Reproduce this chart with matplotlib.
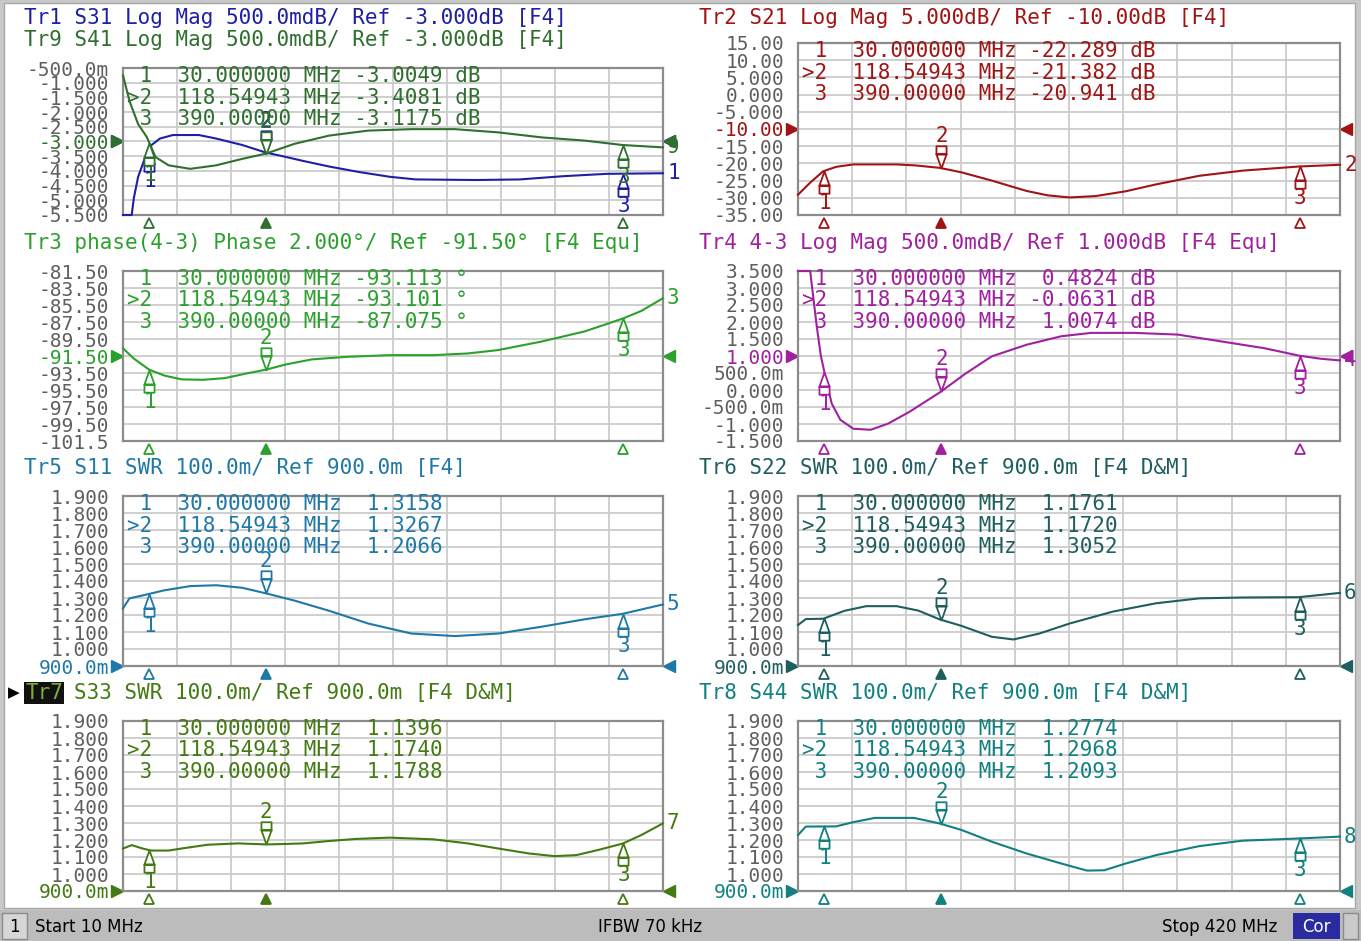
import numpy as np
import matplotlib
matplotlib.use("Agg")
import matplotlib.pyplot as plt
from matplotlib.patches import Rectangle
from matplotlib.path import Path
from matplotlib.transforms import blended_transform_factory, ScaledTranslation

plt.rcParams['font.family'] = ['DejaVu Sans Mono', 'DejaVu Sans']

W, H = 1361, 941

# ---- colours of the traces ----
C_TR1 = '#1f1fa5'
C_TR9 = '#2f6f2f'
C_TR2 = '#a01414'
C_TR3 = '#2ca02c'
C_TR4 = '#a020a0'
C_TR5 = '#1f78a8'
C_TR6 = '#1e5e5e'
C_TR7 = '#437a12'
C_TR8 = '#128080'

# ---- markers ----
marker_freq = [30.0, 118.54943, 390.0]
marker_freq_txt = ["30.000000", "118.54943", "390.00000"]

# ---- traces (MHz, value) ----
f_tr1 = [10, 16.6, 18.2, 21.5, 26.5, 31.4, 38, 47.9, 67.6, 80.8, 100.6, 118.7, 130.2,
         146.7, 166.4, 189.5, 212.5, 232.3, 278.4, 311.3, 344.3, 377.2, 420]
v_tr1 = [-5.5, -5.5, -4.93, -4.2, -3.58, -3.13, -2.9, -2.78, -2.78, -2.9, -3.12, -3.38, -3.49,
         -3.66, -3.85, -4.04, -4.2, -4.29, -4.31, -4.29, -4.18, -4.1, -4.08]

f_tr9 = [10, 14.9, 21.5, 28.1, 34.7, 44.6, 61, 80.8, 100.6, 118.7, 140.1, 166.4, 196.1,
         229, 261.9, 294.9, 327.8, 360.7, 389.4, 420]
v_tr9 = [-0.75, -1.62, -2.41, -2.85, -3.53, -3.81, -3.93, -3.81, -3.59, -3.41, -3.08, -2.8,
         -2.63, -2.58, -2.58, -2.69, -2.86, -2.97, -3.12, -3.2]

f_tr2 = [10, 19.2, 29, 38.8, 51.9, 84.6, 99.3, 117.3, 133.7, 156.6, 182.8, 199.1, 215.5,
         235.1, 258, 280.9, 313.6, 346.4, 389, 420]
v_tr2 = [-29.1, -25.6, -22.3, -21.0, -20.3, -20.3, -20.6, -21.3, -22.6, -25.0, -28.0, -29.3,
         -29.9, -29.5, -28.1, -26.1, -23.6, -22.1, -20.9, -20.4]

f_tr3 = [10, 18.2, 29.8, 41.3, 54.5, 70.9, 87.4, 103.9, 118.7, 133.5, 153.3, 179.6, 212.5,
         245.5, 271.8, 294.9, 327.8, 360.7, 389.4, 403.5, 420]
v_tr3 = [-90.6, -91.8, -93.1, -93.8, -94.25, -94.3, -94.1, -93.55, -93.1, -92.5, -91.9, -91.6,
         -91.4, -91.4, -91.2, -90.8, -89.8, -88.6, -87.1, -86.2, -84.7]

f_tr4 = [10, 19.2, 24.1, 27.3, 30.6, 35.5, 42.1, 51.9, 65, 78.1, 94.4, 117.3, 137, 156.6,
         182.8, 209, 231.8, 264.6, 297.3, 330, 362.7, 389, 405.3, 420]
v_tr4 = [3.5, 3.5, 1.9, 1.0, 0.42, -0.4, -0.88, -1.14, -1.17, -0.99, -0.64, -0.07, 0.49, 0.99,
         1.33, 1.58, 1.68, 1.68, 1.63, 1.43, 1.23, 1.01, 0.92, 0.87]

f_tr5 = [10, 14.9, 24.8, 41.3, 61, 80.8, 100.6, 118.7, 140.1, 166.4, 196.1, 229, 261.9,
         294.9, 327.8, 360.7, 389.4, 420]
v_tr5 = [1.239, 1.298, 1.315, 1.345, 1.37, 1.375, 1.36, 1.327, 1.285, 1.225, 1.15, 1.091,
         1.076, 1.091, 1.131, 1.175, 1.207, 1.262]

f_tr6 = [10, 15.9, 29, 45.3, 61.7, 84.6, 101, 117.3, 133.7, 156.6, 173, 192.6, 215.5, 248.2,
         280.9, 313.6, 346.4, 389, 420]
v_tr6 = [1.141, 1.176, 1.178, 1.225, 1.252, 1.252, 1.226, 1.174, 1.136, 1.072, 1.056, 1.091,
         1.15, 1.22, 1.269, 1.298, 1.303, 1.305, 1.33]

f_tr7 = [10, 16.6, 24.8, 31.4, 44.6, 54.5, 74.2, 97.3, 118.7, 130.2, 146.7, 166.4, 186.2,
         212.5, 245.5, 271.8, 294.9, 318, 337.7, 354.2, 370.6, 389.4, 403.5, 420]
v_tr7 = [1.15, 1.17, 1.15, 1.138, 1.138, 1.15, 1.172, 1.18, 1.174, 1.176, 1.18, 1.194, 1.206,
         1.214, 1.204, 1.18, 1.15, 1.121, 1.105, 1.111, 1.141, 1.179, 1.229, 1.298]

f_tr8 = [10, 15.9, 38.8, 51.9, 68.2, 97.7, 117.3, 133.7, 156.6, 182.8, 209, 228.6, 241.7,
         258, 280.9, 313.6, 346.4, 389, 420]
v_tr8 = [1.229, 1.279, 1.28, 1.305, 1.33, 1.33, 1.297, 1.259, 1.19, 1.121, 1.062, 1.02,
         1.022, 1.062, 1.111, 1.164, 1.196, 1.209, 1.22]

# ---- y scale labels (top to bottom) ----
ticks_tr1 = ['-500.0m', '-1.000', '-1.500', '-2.000', '-2.500', '-3.000', '-3.500', '-4.000',
             '-4.500', '-5.000', '-5.500']
ticks_tr2 = ['15.00', '10.00', '5.000', '0.000', '-5.000', '-10.00', '-15.00', '-20.00',
             '-25.00', '-30.00', '-35.00']
ticks_tr3 = ['-81.50', '-83.50', '-85.50', '-87.50', '-89.50', '-91.50', '-93.50', '-95.50',
             '-97.50', '-99.50', '-101.5']
ticks_tr4 = ['3.500', '3.000', '2.500', '2.000', '1.500', '1.000', '500.0m', '0.000',
             '-500.0m', '-1.000', '-1.500']
ticks_swr = ['1.900', '1.800', '1.700', '1.600', '1.500', '1.400', '1.300', '1.200',
             '1.100', '1.000', '900.0m']

# ---- marker readouts ----
vals_tr9 = ["-3.0049", "-3.4081", "-3.1175"]
vals_tr2 = ["-22.289", "-21.382", "-20.941"]
vals_tr3 = ["-93.113", "-93.101", "-87.075"]
vals_tr4 = [" 0.4824", "-0.0631", " 1.0074"]
vals_tr5 = [" 1.3158", " 1.3267", " 1.2066"]
vals_tr6 = [" 1.1761", " 1.1720", " 1.3052"]
vals_tr7 = [" 1.1396", " 1.1740", " 1.1788"]
vals_tr8 = [" 1.2774", " 1.2968", " 1.2093"]

titles = [
    (24, 18, "Tr1 S31 Log Mag 500.0mdB/ Ref -3.000dB [F4]", C_TR1),
    (24, 40, "Tr9 S41 Log Mag 500.0mdB/ Ref -3.000dB [F4]", C_TR9),
    (699, 18, "Tr2 S21 Log Mag 5.000dB/ Ref -10.00dB [F4]", C_TR2),
    (24, 243, "Tr3 phase(4-3) Phase 2.000°/ Ref -91.50° [F4 Equ]", C_TR3),
    (699, 243, "Tr4 4-3 Log Mag 500.0mdB/ Ref 1.000dB [F4 Equ]", C_TR4),
    (24, 468, "Tr5 S11 SWR 100.0m/ Ref 900.0m [F4]", C_TR5),
    (699, 468, "Tr6 S22 SWR 100.0m/ Ref 900.0m [F4 D&M]", C_TR6),
    (74, 693, "S33 SWR 100.0m/ Ref 900.0m [F4 D&M]", C_TR7),
    (699, 693, "Tr8 S44 SWR 100.0m/ Ref 900.0m [F4 D&M]", C_TR8),
]

panels = [
    dict(box=(123, 68, 663, 215), lim=(-5.5, -0.5), ticks=ticks_tr1, ref=-3.0,
         traces=[(f_tr1, v_tr1, C_TR1, '1'), (f_tr9, v_tr9, C_TR9, '9')],
         table=(C_TR9, vals_tr9, " dB")),
    dict(box=(798, 43, 1340, 215), lim=(-35, 15), ticks=ticks_tr2, ref=-10.0,
         traces=[(f_tr2, v_tr2, C_TR2, '2')], table=(C_TR2, vals_tr2, " dB")),
    dict(box=(123, 271, 663, 441), lim=(-101.5, -81.5), ticks=ticks_tr3, ref=-91.5,
         traces=[(f_tr3, v_tr3, C_TR3, '3')], table=(C_TR3, vals_tr3, " °")),
    dict(box=(798, 271, 1340, 441), lim=(-1.5, 3.5), ticks=ticks_tr4, ref=1.0,
         traces=[(f_tr4, v_tr4, C_TR4, '4')], table=(C_TR4, vals_tr4, " dB")),
    dict(box=(123, 496, 663, 666), lim=(0.9, 1.9), ticks=ticks_swr, ref=0.9,
         traces=[(f_tr5, v_tr5, C_TR5, '5')], table=(C_TR5, vals_tr5, "")),
    dict(box=(798, 496, 1340, 666), lim=(0.9, 1.9), ticks=ticks_swr, ref=0.9,
         traces=[(f_tr6, v_tr6, C_TR6, '6')], table=(C_TR6, vals_tr6, "")),
    dict(box=(123, 721, 663, 891), lim=(0.9, 1.9), ticks=ticks_swr, ref=0.9,
         traces=[(f_tr7, v_tr7, C_TR7, '7')], table=(C_TR7, vals_tr7, "")),
    dict(box=(798, 721, 1340, 891), lim=(0.9, 1.9), ticks=ticks_swr, ref=0.9,
         traces=[(f_tr8, v_tr8, C_TR8, '8')], table=(C_TR8, vals_tr8, "")),
]

fig = plt.figure(figsize=(W / 100, H / 100), dpi=100)
fig.patch.set_facecolor('#c8c8c8')


def px_rect(x0, y0, x1, y1, z=-10, **kw):
    fig.patches.append(Rectangle((x0 / W, 1 - y1 / H), (x1 - x0) / W, (y1 - y0) / H,
                                 transform=fig.transFigure, zorder=z, **kw))


def fig_text(x, y, s, **kw):
    kw.setdefault('va', 'center')
    return fig.text(x / W, 1 - y / H, s, **kw)


def shift(dx, dy):
    return ScaledTranslation(dx / 100, -dy / 100, fig.dpi_scale_trans)


def bell(d):
    # marker glyph: apex on the trace, body below (d=-1) or above (d=1)
    verts = [(0, 0), (-5, 14 * d), (5, 14 * d), (0, 0),
             (-5, 14 * d), (5, 14 * d), (5, 22 * d), (-5, 22 * d), (-5, 14 * d)]
    codes = [Path.MOVETO, Path.LINETO, Path.LINETO, Path.CLOSEPOLY,
             Path.MOVETO, Path.LINETO, Path.LINETO, Path.LINETO, Path.CLOSEPOLY]
    return Path(verts, codes)


BELL_UP = bell(-1)
BELL_DOWN = bell(1)

# white screen area + status bar
px_rect(4, 3, 1355, 908, facecolor='white', edgecolor='#a8a8a8', lw=1)
px_rect(0, 910, W, H, facecolor='#bcbcbc', edgecolor='none')
px_rect(2, 913, 27, 939, z=1, facecolor='#d6d6d6', edgecolor='#8a8a8a', lw=1)
px_rect(1293, 913, 1340, 939, z=1, facecolor='#2b2ba0', edgecolor='none')
px_rect(1343, 913, 1358, 939, z=1, facecolor='#cacaca', edgecolor='#8a8a8a', lw=1)
sb = dict(family='DejaVu Sans', fontsize=12, color='black')
fig_text(14, 927, "1", ha='center', **sb)
fig_text(35, 927, "Start 10 MHz", ha='left', **sb)
fig_text(650, 927, "IFBW 70 kHz", ha='center', **sb)
fig_text(1277, 927, "Stop 420 MHz", ha='right', **sb)
fig_text(1316, 927, "Cor", ha='center', family='DejaVu Sans', fontsize=12, color='white')

for x, y, s, c in titles:
    fig_text(x, y, s, ha='left', color=c, fontsize=15)
# active trace flag
fig_text(8, 693, "▶", ha='left', color='black', fontsize=11, family='DejaVu Sans')
fig_text(25, 693, "Tr7", ha='left', color='#7fae3a', fontsize=15,
         bbox=dict(facecolor='#111111', edgecolor='none', pad=0.5))

for p in panels:
    x0, y0, x1, y1 = p['box']
    lo, hi = p['lim']
    ax = fig.add_axes([x0 / W, 1 - y1 / H, (x1 - x0) / W, (y1 - y0) / H])
    ax.set_facecolor('white')
    ax.set_xlim(10, 420)
    ax.set_ylim(lo, hi)
    ax.set_xticks(np.linspace(10, 420, 11))
    ax.set_xticklabels([])
    ax.set_yticks(np.linspace(hi, lo, 11))
    ax.set_yticklabels(p['ticks'], fontsize=14, color='#5e5e5e')
    ax.tick_params(length=0, pad=10)
    ax.grid(True, color='#cccccc', lw=1.3)
    ax.set_axisbelow(True)
    for s in ax.spines.values():
        s.set_color('#8c8c8c')
        s.set_linewidth(1.6)

    ref_col = p['traces'][-1][2]
    ref_i = int(round((hi - p['ref']) / (hi - lo) * 10))
    ax.get_yticklabels()[ref_i].set_color(ref_col)

    yb = blended_transform_factory(ax.transAxes, ax.transData)
    xb = blended_transform_factory(ax.transData, ax.transAxes)
    for f, v, col, num in p['traces']:
        ax.plot(f, np.clip(v, lo, hi), color=col, lw=1.5, clip_on=False, zorder=3)
        for i, mf in enumerate(marker_freq):
            mv = np.interp(mf, f, np.clip(v, lo, hi))
            d = 1 if i == 1 else -1
            ax.plot(mf, mv, marker=BELL_DOWN if d > 0 else BELL_UP, ms=32, color=col,
                    mfc='white', mew=1.3, clip_on=False, zorder=4)
            ax.annotate(str(i + 1), (mf, mv), xytext=(0, d * 23), textcoords='offset points',
                        ha='center', va='center', color=col, fontsize=15, zorder=5,
                        annotation_clip=False)
        ax.text(1, v[-1], num, transform=yb + shift(4, 0), ha='left', va='center',
                color=col, fontsize=15, clip_on=False)
        ax.plot(0, p['ref'], marker='>', ms=8, color=col, transform=yb + shift(-6, 0),
                clip_on=False)
        ax.plot(1, p['ref'], marker='<', ms=8, color=col, transform=yb + shift(6, 0),
                clip_on=False)

    # marker position triangles under the grid
    col, vals, unit = p['table']
    for i, mf in enumerate(marker_freq):
        ax.plot(mf, 0, marker='^', ms=7, color=col, mfc=col if i == 1 else 'white',
                mew=1.3, transform=xb + shift(0, 8), clip_on=False)

    # marker readout table
    for i in range(3):
        line = f"{'>' if i == 1 else ' '}{i + 1}  {marker_freq_txt[i]} MHz {vals[i]}{unit}"
        fig_text(x0 + 4, y0 + 8 + 21.5 * i, line, ha='left', color=col, fontsize=15, zorder=6)

fig.savefig("out.png", dpi=100, facecolor=fig.get_facecolor())
